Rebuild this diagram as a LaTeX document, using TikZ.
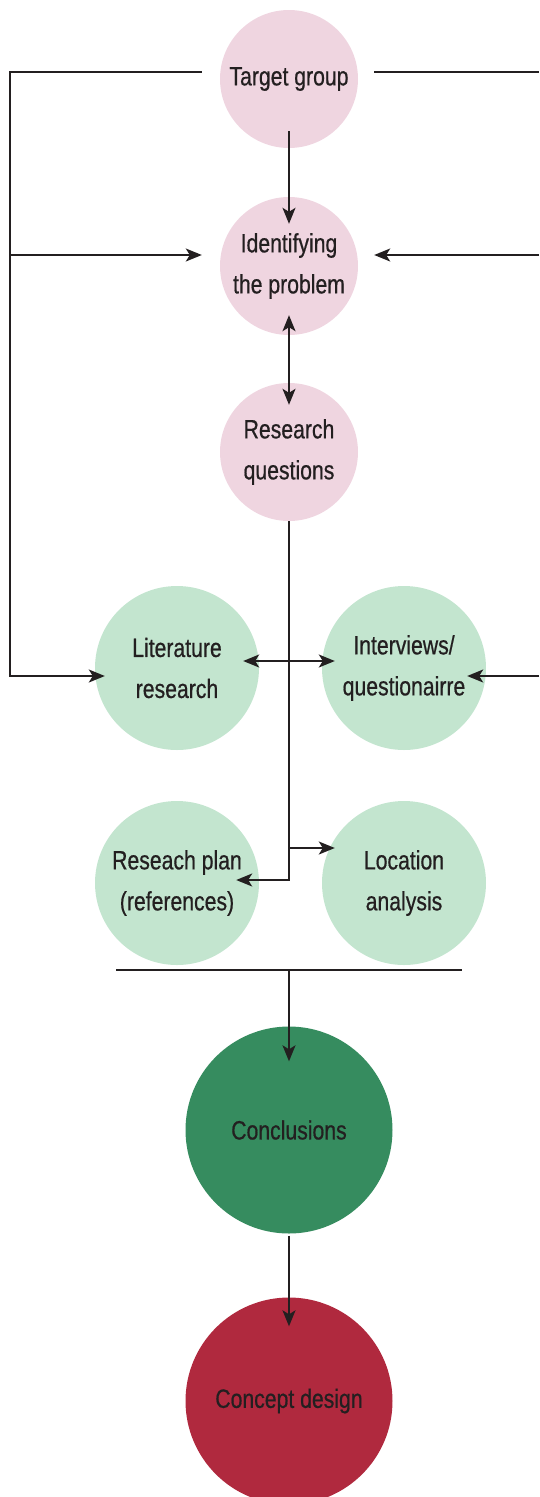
\documentclass[tikz,border=0pt]{standalone}
\usepackage{fontspec}
\setmainfont{Liberation Sans}[FakeStretch=0.8,FakeBold=0.6]
\usetikzlibrary{arrows.meta}

\definecolor{rose}{HTML}{EFD5E0}
\definecolor{mint}{HTML}{C3E5CF}
\definecolor{forest}{HTML}{368C5F}
\definecolor{wine}{HTML}{B0293E}
\definecolor{ink}{HTML}{231F20}

\tikzstyle{bubble} = [circle, draw=none, text=ink, align=center, inner sep=0pt, font=\fontsize{26.5}{41}\selectfont]
\tikzstyle{pinkb} = [bubble, fill=rose, minimum size=138pt]
\tikzstyle{greenb} = [bubble, fill=mint, minimum size=164pt]
\tikzstyle{bigb} = [bubble, minimum size=207pt]
\tikzstyle{link} = [draw=ink, line width=1.7pt]
\tikzstyle{arr} = [link, -{Stealth[length=16pt,width=13pt,inset=4pt]}]
\tikzstyle{dbl} = [link, {Stealth[length=16pt,width=13pt,inset=4pt]}-{Stealth[length=16pt,width=13pt,inset=4pt]}]

\begin{document}
\begin{tikzpicture}[x=1pt,y=-1pt]
    \useasboundingbox (0,0) rectangle (539,1497);
    % Nodes
    \node[pinkb] (target) at (289, 79) {Target group};
    \node[pinkb] (problem) at (289, 266) {Identifying\\the problem};
    \node[pinkb] (questions) at (289, 452) {Research\\questions};
    \node[greenb] (literature) at (177, 668) {Literature\\research};
    \node[greenb] (interviews) at (404, 668) {Interviews/\\questionairre};
    \node[greenb] (plan) at (177, 883) {Reseach plan\\(references)};
    \node[greenb] (location) at (404, 883) {Location\\analysis};
    \node[bigb, fill=forest] (conclusions) at (289, 1130) {Conclusions};
    \node[bigb, fill=wine] (concept) at (289, 1401) {Concept design};
    % Edge ends
    \coordinate (lbus) at (10, 676);
    \coordinate (rbus) at (539, 676);
    \coordinate (tgl) at ([xshift=-18pt,yshift=7pt]target.west);
    \coordinate (tgr) at ([xshift=16pt,yshift=7pt]target.east);
    \coordinate (pbl) at ([xshift=-18pt,yshift=11pt]problem.west);
    \coordinate (pbr) at ([xshift=16pt,yshift=11pt]problem.east);
    \coordinate (lit) at ([xshift=10pt,yshift=-8pt]literature.west);
    \coordinate (itv) at ([xshift=-19pt,yshift=-8pt]interviews.east);
    \coordinate (loc) at ([xshift=13pt,yshift=35pt]location.west);
    \coordinate (barl) at (116, 970);
    \coordinate (barr) at (462, 970);
    % Edges
    \draw[arr] (tgl) -| (lbus) -- (lit);
    \draw[arr] (lbus |- pbl) -- (pbl);
    \draw[link] (tgr) -- (rbus |- tgr);
    \draw[arr] (rbus |- pbr) -- (pbr);
    \draw[arr] (rbus) -- (itv);
    \draw[arr] ([yshift=17pt]target.south) -- ([yshift=-27pt]problem.north);
    \draw[dbl] ([yshift=20pt]problem.south) -- ([yshift=-22pt]questions.north);
    \draw[arr] (questions.south) |- ([xshift=-23pt,yshift=3pt]plan.east);
    \draw[arr] (questions.south |- loc) -- (loc);
    \draw[dbl] ([xshift=-16pt,yshift=7pt]literature.east) -- ([xshift=13pt,yshift=7pt]interviews.west);
    % Bar and results
    \draw[link] (barl) -- (barr);
    \draw[arr] (conclusions |- barl) -- ([yshift=-35pt]conclusions.north);
    \draw[arr] ([yshift=-2pt]conclusions.south) -- ([yshift=-29pt]concept.north);
\end{tikzpicture}
\end{document}
